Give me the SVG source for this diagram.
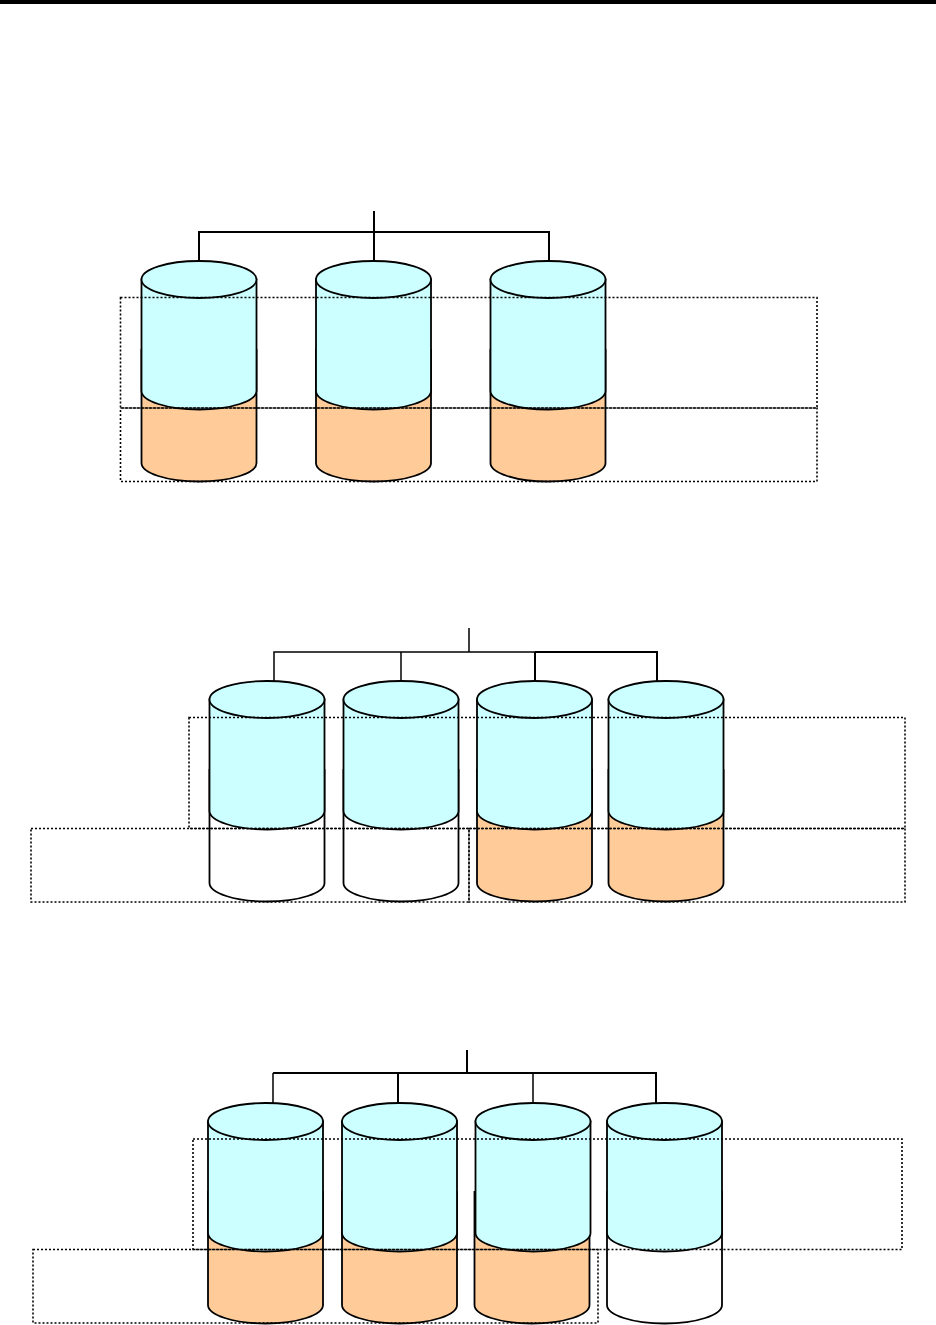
<svg xmlns="http://www.w3.org/2000/svg" width="936" height="1325" viewBox="0 0 936 1325">
<style>
.cy{stroke:#000;stroke-width:1.8}
.b{fill:#ccffff}.o{fill:#ffcc99}.w{fill:#fff}
.t{fill:none;stroke:#000;stroke-width:2}
.n{fill:none;stroke:#000;stroke-width:1.5}
.d{fill:none;stroke:#000;stroke-width:1.6;stroke-dasharray:2 2}
</style>
<defs>
<path id="low" d="M-57.5 89V202C-57.5 212 -32 220.5 0 220.5S57.5 212 57.5 202V89Z"/>
<path id="up" d="M-57.5 18.5V130C-57.5 140 -32 148.5 0 148.5S57.5 140 57.5 130V18.5Z"/>
<ellipse id="top" cx="0" cy="18.5" rx="57.5" ry="18.5"/>
</defs>
<rect x="0" y="0" width="936" height="4" fill="#000"/>
<g id="connectors">
<path class="t" d="M374 211V261M199 261V232H549V261"/>
<path class="n" d="M469 628V652M274 681V652H535"/>
<path class="t" d="M535 652V681M535 652H657V681"/>
<path class="n" d="M401 652V681"/>
<path class="t" d="M467 1050V1073M273 1073H656V1103M398 1073V1103"/>
<path class="n" d="M273 1073V1103M533 1073V1103"/>
</g>
<g id="cyl-1-1" class="cy" transform="translate(199 261)"><use href="#low" class="o"/><use href="#up" class="b"/><use href="#top" class="b"/></g>
<g id="cyl-1-2" class="cy" transform="translate(373.5 261)"><use href="#low" class="o"/><use href="#up" class="b"/><use href="#top" class="b"/></g>
<g id="cyl-1-3" class="cy" transform="translate(548 261)"><use href="#low" class="o"/><use href="#up" class="b"/><use href="#top" class="b"/></g>
<g id="cyl-2-1" class="cy" transform="translate(267 681)"><use href="#low" class="w"/><use href="#up" class="b"/><use href="#top" class="b"/></g>
<g id="cyl-2-2" class="cy" transform="translate(401 681)"><use href="#low" class="w"/><use href="#up" class="b"/><use href="#top" class="b"/></g>
<g id="cyl-2-3" class="cy" transform="translate(534.5 681)"><use href="#low" class="o"/><use href="#up" class="b"/><use href="#top" class="b"/></g>
<g id="cyl-2-4" class="cy" transform="translate(666 681)"><use href="#low" class="o"/><use href="#up" class="b"/><use href="#top" class="b"/></g>
<g id="cyl-3-1" class="cy" transform="translate(265.5 1103)"><use href="#low" class="o"/><use href="#up" class="b"/><use href="#top" class="b"/></g>
<g id="cyl-3-2" class="cy" transform="translate(399.5 1103)"><use href="#low" class="o"/><use href="#up" class="b"/><use href="#top" class="b"/></g>
<g id="cyl-3-3" class="cy" transform="translate(533 1103)"><use href="#low" class="o" x="-1"/><use href="#up" class="b"/><use href="#top" class="b"/></g>
<g id="cyl-3-4" class="cy" transform="translate(664.5 1103)"><use href="#low" class="w"/><use href="#up" class="b"/><use href="#top" class="b"/></g>
<g id="group-boxes">
<rect class="d" x="120.5" y="297.5" width="696.5" height="110.5"/>
<rect class="d" x="120.5" y="408" width="696.5" height="73.5"/>
<rect class="d" x="189" y="717.5" width="716" height="111"/>
<rect class="d" x="31" y="828.5" width="438" height="73.5"/>
<rect class="d" x="469" y="828.5" width="436" height="73.5"/>
<rect class="d" x="193" y="1139" width="709" height="110.5"/>
<rect class="d" x="33" y="1249.5" width="565" height="73.5"/>
</g>
</svg>
